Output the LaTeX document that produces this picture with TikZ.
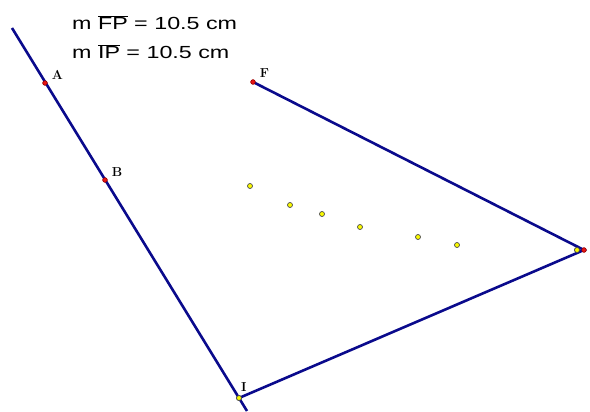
\documentclass[tikz,border=0pt]{standalone}
\usepackage{fontspec}
\newfontfamily\arial{Liberation Sans}
\usepackage{tikz}
\usetikzlibrary{positioning}
\definecolor{segblue}{RGB}{10,10,140}
\definecolor{ptred}{RGB}{230,20,20}
\definecolor{ptyellow}{RGB}{250,250,0}

\begin{document}
\begin{tikzpicture}[x=1pt, y=-1pt,
        seg/.style={segblue, line width=2.6pt},
        redpt/.style={circle, draw=red!60!black, fill=ptred, inner sep=0pt, minimum size=4.5pt, line width=0.5pt},
        yelpt/.style={circle, draw=black!70, fill=ptyellow, inner sep=0pt, minimum size=5pt, line width=0.7pt},
        lbl/.style={font=\bfseries\fontsize{13}{14}\selectfont, inner sep=1pt},
        meas/.style={font=\arial\fontsize{17.5}{19}\selectfont, anchor=west, inner sep=0pt}]
        \useasboundingbox (0,0) rectangle (590,412);

        \coordinate (top) at (12,28);
        \coordinate (bot) at (247,411);
        \node[redpt] (A) at (45,83) {};
        \node[redpt] (B) at (105,180) {};
        \node[redpt] (F) at (253,82) {};
        \node[redpt] (P) at (584,250) {};
        \node[yelpt] (Q) at (577,250) {};
        \node[yelpt] (I) at (239,398) {};

        \draw[seg] (top) -- (bot);
        \draw[seg] (F.center) -- (P.center) -- (I.center);

        \node[redpt] at (A) {};
        \node[redpt] at (B) {};
        \node[redpt] at (F) {};
        \node[yelpt] at (I) {};
        \node[yelpt] at (Q) {};
        \node[redpt] at (P) {};

        \node[lbl] [above right=1pt and 4pt of A] {A};
        \node[lbl] [above right=1pt and 4pt of B] {B};
        \node[lbl] [above right=2pt and 4pt of F] {F};
        \node[lbl] [above right=3pt and -1pt of I] {I};

        % locus points
        \foreach \x/\y in {250/186, 290/205, 322/214, 360/227, 418/237, 457/245}
            \node[yelpt] at (\x,\y) {};

        \node[meas] (m1) at (72,23)
            {\scalebox{1.33}[1]{m $\overline{\hbox{FP}}$ = 10.5 cm}};
        \node[meas] (m2) at (72,52)
            {\scalebox{1.33}[1]{m $\overline{\hbox{IP}}$ = 10.5 cm}};
    \end{tikzpicture}
\end{document}
